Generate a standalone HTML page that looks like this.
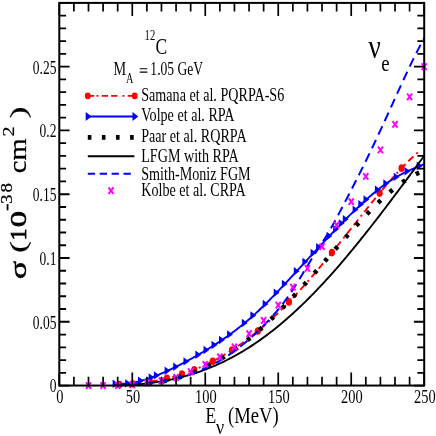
<!DOCTYPE html>
<html><head><meta charset="utf-8"><title>chart</title>
<style>html,body{margin:0;padding:0;background:#fff;width:436px;height:436px;overflow:hidden}</style></head>
<body>
<svg width="436" height="436" viewBox="0 0 436 436" style="position:absolute;left:0;top:0">
<rect width="436" height="436" fill="#fff"/>
<defs><clipPath id="cp"><rect x="59.3" y="2.9" width="364.9" height="382.65"/></clipPath></defs>
<g fill="none" stroke-linejoin="round" clip-path="url(#cp)">
<path d="M117.00,384.70 L117.76,384.67 L118.52,384.64 L119.28,384.62 L120.04,384.58 L120.80,384.55 L121.56,384.52 L122.32,384.48 L123.08,384.44 L123.84,384.40 L124.60,384.36 L125.36,384.32 L126.12,384.27 L126.88,384.22 L127.64,384.18 L128.40,384.12 L129.16,384.07 L129.92,384.01 L130.68,383.96 L131.44,383.90 L132.20,383.84 L132.96,383.77 L133.72,383.71 L134.48,383.64 L135.24,383.57 L136.00,383.49 L136.76,383.42 L137.52,383.34 L138.28,383.26 L139.04,383.18 L139.80,383.10 L140.56,383.01 L141.32,382.92 L142.08,382.83 L142.85,382.73 L143.61,382.64 L144.37,382.54 L145.13,382.44 L145.89,382.33 L146.65,382.23 L147.41,382.12 L148.17,382.01 L148.93,381.89 L149.69,381.78 L150.45,381.66 L151.21,381.54 L151.97,381.41 L152.73,381.28 L153.49,381.15 L154.25,381.02 L155.01,380.88 L155.77,380.75 L156.53,380.60 L157.29,380.46 L158.05,380.31 L158.81,380.16 L159.57,380.01 L160.33,379.86 L161.09,379.70 L161.85,379.54 L162.61,379.37 L163.37,379.20 L164.13,379.03 L164.89,378.86 L165.65,378.68 L166.41,378.50 L167.17,378.32 L167.93,378.14 L168.69,377.95 L169.45,377.76 L170.21,377.56 L170.97,377.36 L171.73,377.16 L172.49,376.96 L173.25,376.75 L174.01,376.54 L174.77,376.33 L175.53,376.11 L176.29,375.89 L177.05,375.66 L177.81,375.44 L178.57,375.21 L179.33,374.97 L180.09,374.74 L180.85,374.50 L181.61,374.25 L182.37,374.01 L183.13,373.76 L183.89,373.50 L184.65,373.24 L185.41,372.98 L186.17,372.72 L186.93,372.45 L187.69,372.18 L188.45,371.91 L189.21,371.63 L189.97,371.35 L190.73,371.06 L191.49,370.77 L192.25,370.48 L193.02,370.19 L193.78,369.89 L194.54,369.59 L195.30,369.28 L196.06,368.97 L196.82,368.66 L197.58,368.34 L198.34,368.02 L199.10,367.69 L199.86,367.37 L200.62,367.03 L201.38,366.70 L202.14,366.36 L202.90,366.02 L203.66,365.67 L204.42,365.32 L205.18,364.97 L205.94,364.61 L206.70,364.25 L207.46,363.88 L208.22,363.51 L208.98,363.14 L209.74,362.76 L210.50,362.38 L211.26,362.00 L212.02,361.61 L212.78,361.22 L213.54,360.83 L214.30,360.43 L215.06,360.02 L215.82,359.62 L216.58,359.21 L217.34,358.79 L218.10,358.37 L218.86,357.95 L219.62,357.52 L220.38,357.09 L221.14,356.66 L221.90,356.22 L222.66,355.78 L223.42,355.33 L224.18,354.88 L224.94,354.43 L225.70,353.97 L226.46,353.51 L227.22,353.05 L227.98,352.58 L228.74,352.10 L229.50,351.63 L230.26,351.15 L231.02,350.66 L231.78,350.17 L232.54,349.68 L233.30,349.18 L234.06,348.68 L234.82,348.18 L235.58,347.67 L236.34,347.15 L237.10,346.64 L237.86,346.12 L238.62,345.59 L239.38,345.06 L240.14,344.53 L240.90,343.99 L241.66,343.45 L242.42,342.90 L243.18,342.36 L243.95,341.80 L244.71,341.25 L245.47,340.68 L246.23,340.12 L246.99,339.55 L247.75,338.98 L248.51,338.40 L249.27,337.82 L250.03,337.23 L250.79,336.64 L251.55,336.05 L252.31,335.45 L253.07,334.85 L253.83,334.24 L254.59,333.63 L255.35,333.02 L256.11,332.40 L256.87,331.78 L257.63,331.16 L258.39,330.53 L259.15,329.89 L259.91,329.25 L260.67,328.61 L261.43,327.97 L262.19,327.32 L262.95,326.66 L263.71,326.00 L264.47,325.34 L265.23,324.68 L265.99,324.01 L266.75,323.33 L267.51,322.65 L268.27,321.97 L269.03,321.29 L269.79,320.60 L270.55,319.90 L271.31,319.20 L272.07,318.50 L272.83,317.80 L273.59,317.09 L274.35,316.37 L275.11,315.66 L275.87,314.94 L276.63,314.21 L277.39,313.48 L278.15,312.75 L278.91,312.01 L279.67,311.27 L280.43,310.53 L281.19,309.78 L281.95,309.03 L282.71,308.27 L283.47,307.51 L284.23,306.75 L284.99,305.98 L285.75,305.21 L286.51,304.44 L287.27,303.66 L288.03,302.88 L288.79,302.09 L289.55,301.30 L290.31,300.51 L291.07,299.72 L291.83,298.92 L292.59,298.11 L293.35,297.31 L294.12,296.50 L294.88,295.69 L295.64,294.87 L296.40,294.05 L297.16,293.23 L297.92,292.40 L298.68,291.57 L299.44,290.74 L300.20,289.90 L300.96,289.06 L301.72,288.22 L302.48,287.37 L303.24,286.53 L304.00,285.67 L304.76,284.82 L305.52,283.96 L306.28,283.10 L307.04,282.24 L307.80,281.37 L308.56,280.50 L309.32,279.63 L310.08,278.75 L310.84,277.87 L311.60,276.99 L312.36,276.11 L313.12,275.22 L313.88,274.34 L314.64,273.44 L315.40,272.55 L316.16,271.65 L316.92,270.76 L317.68,269.85 L318.44,268.95 L319.20,268.04 L319.96,267.14 L320.72,266.23 L321.48,265.31 L322.24,264.40 L323.00,263.48 L323.76,262.56 L324.52,261.64 L325.28,260.72 L326.04,259.79 L326.80,258.87 L327.56,257.94 L328.32,257.01 L329.08,256.07 L329.84,255.14 L330.60,254.21 L331.36,253.27 L332.12,252.33 L332.88,251.39 L333.64,250.45 L334.40,249.50 L335.16,248.56 L335.92,247.61 L336.68,246.67 L337.44,245.72 L338.20,244.77 L338.96,243.82 L339.72,242.87 L340.48,241.91 L341.24,240.96 L342.00,240.01 L342.76,239.05 L343.52,238.09 L344.28,237.14 L345.05,236.18 L345.81,235.22 L346.57,234.26 L347.33,233.31 L348.09,232.35 L348.85,231.39 L349.61,230.43 L350.37,229.47 L351.13,228.51 L351.89,227.55 L352.65,226.59 L353.41,225.63 L354.17,224.67 L354.93,223.71 L355.69,222.75 L356.45,221.79 L357.21,220.83 L357.97,219.87 L358.73,218.91 L359.49,217.96 L360.25,217.00 L361.01,216.05 L361.77,215.09 L362.53,214.14 L363.29,213.18 L364.05,212.23 L364.81,211.28 L365.57,210.33 L366.33,209.38 L367.09,208.43 L367.85,207.49 L368.61,206.54 L369.37,205.60 L370.13,204.66 L370.89,203.72 L371.65,202.78 L372.41,201.84 L373.17,200.91 L373.93,199.98 L374.69,199.05 L375.45,198.12 L376.21,197.19 L376.97,196.27 L377.73,195.35 L378.49,194.43 L379.25,193.51 L380.01,192.60 L380.77,191.69 L381.53,190.78 L382.29,189.88 L383.05,188.98 L383.81,188.08 L384.57,187.18 L385.33,186.29 L386.09,185.40 L386.85,184.51 L387.61,183.63 L388.37,182.75 L389.13,181.88 L389.89,181.00 L390.65,180.14 L391.41,179.27 L392.17,178.41 L392.93,177.56 L393.69,176.71 L394.45,175.86 L395.22,175.02 L395.98,174.18 L396.74,173.35 L397.50,172.52 L398.26,171.69 L399.02,170.87 L399.78,170.06 L400.54,169.25 L401.30,168.45 L402.06,167.65 L402.82,166.85 L403.58,166.07 L404.34,165.28 L405.10,164.51 L405.86,163.74 L406.62,162.97 L407.38,162.21 L408.14,161.46 L408.90,160.71 L409.66,159.97 L410.42,159.24 L411.18,158.51 L411.94,157.79 L412.70,157.07 L413.46,156.36 L414.22,155.66 L414.98,154.97 L415.74,154.28 L416.50,153.60 L417.26,152.93 L418.02,152.26 L418.78,151.61 L419.54,150.96 L420.30,150.32" stroke="#ff0000" stroke-width="1.9" stroke-dasharray="2 4 7 4 7 4"/>
</g>
<ellipse cx="119.50" cy="384.61" rx="3.1" ry="3.8" fill="#ff0000"/>
<ellipse cx="132.70" cy="383.79" rx="3.1" ry="3.8" fill="#ff0000"/>
<ellipse cx="150.00" cy="381.73" rx="3.1" ry="3.8" fill="#ff0000"/>
<ellipse cx="166.90" cy="378.39" rx="3.1" ry="3.8" fill="#ff0000"/>
<ellipse cx="181.90" cy="374.16" rx="3.1" ry="3.8" fill="#ff0000"/>
<ellipse cx="194.30" cy="369.68" rx="3.1" ry="3.8" fill="#ff0000"/>
<ellipse cx="212.70" cy="361.26" rx="3.1" ry="3.8" fill="#ff0000"/>
<ellipse cx="232.00" cy="350.03" rx="3.1" ry="3.8" fill="#ff0000"/>
<ellipse cx="257.80" cy="331.01" rx="3.1" ry="3.8" fill="#ff0000"/>
<ellipse cx="289.00" cy="301.88" rx="3.1" ry="3.8" fill="#ff0000"/>
<ellipse cx="331.90" cy="252.60" rx="3.1" ry="3.8" fill="#ff0000"/>
<ellipse cx="379.60" cy="193.10" rx="3.1" ry="3.8" fill="#ff0000"/>
<ellipse cx="401.60" cy="168.13" rx="3.1" ry="3.8" fill="#ff0000"/>
<g fill="none" stroke-linejoin="round" clip-path="url(#cp)">
<path d="M114.70,383.74 L115.48,383.80 L116.26,383.84 L117.03,383.88 L117.81,383.91 L118.59,383.92 L119.37,383.93 L120.14,383.92 L120.92,383.91 L121.70,383.89 L122.48,383.86 L123.25,383.82 L124.03,383.77 L124.81,383.71 L125.59,383.64 L126.37,383.57 L127.14,383.48 L127.92,383.39 L128.70,383.29 L129.48,383.19 L130.25,383.07 L131.03,382.95 L131.81,382.82 L132.59,382.68 L133.36,382.54 L134.14,382.38 L134.92,382.23 L135.70,382.06 L136.48,381.89 L137.25,381.71 L138.03,381.53 L138.81,381.33 L139.59,381.14 L140.36,380.93 L141.14,380.72 L141.92,380.51 L142.70,380.29 L143.47,380.06 L144.25,379.83 L145.03,379.59 L145.81,379.35 L146.59,379.10 L147.36,378.85 L148.14,378.59 L148.92,378.33 L149.70,378.06 L150.47,377.79 L151.25,377.51 L152.03,377.23 L152.81,376.94 L153.58,376.65 L154.36,376.36 L155.14,376.06 L155.92,375.76 L156.70,375.45 L157.47,375.14 L158.25,374.83 L159.03,374.51 L159.81,374.19 L160.58,373.86 L161.36,373.53 L162.14,373.20 L162.92,372.86 L163.69,372.52 L164.47,372.18 L165.25,371.84 L166.03,371.49 L166.81,371.13 L167.58,370.78 L168.36,370.42 L169.14,370.06 L169.92,369.70 L170.69,369.33 L171.47,368.96 L172.25,368.59 L173.03,368.21 L173.80,367.84 L174.58,367.45 L175.36,367.07 L176.14,366.69 L176.92,366.30 L177.69,365.91 L178.47,365.52 L179.25,365.12 L180.03,364.72 L180.80,364.32 L181.58,363.92 L182.36,363.52 L183.14,363.11 L183.91,362.70 L184.69,362.29 L185.47,361.88 L186.25,361.46 L187.03,361.05 L187.80,360.63 L188.58,360.21 L189.36,359.78 L190.14,359.36 L190.91,358.93 L191.69,358.50 L192.47,358.07 L193.25,357.63 L194.02,357.20 L194.80,356.76 L195.58,356.32 L196.36,355.88 L197.14,355.43 L197.91,354.98 L198.69,354.54 L199.47,354.08 L200.25,353.63 L201.02,353.18 L201.80,352.72 L202.58,352.26 L203.36,351.80 L204.13,351.33 L204.91,350.87 L205.69,350.40 L206.47,349.93 L207.25,349.46 L208.02,348.98 L208.80,348.50 L209.58,348.02 L210.36,347.54 L211.13,347.06 L211.91,346.57 L212.69,346.08 L213.47,345.59 L214.24,345.09 L215.02,344.59 L215.80,344.09 L216.58,343.59 L217.36,343.08 L218.13,342.57 L218.91,342.06 L219.69,341.54 L220.47,341.03 L221.24,340.50 L222.02,339.98 L222.80,339.45 L223.58,338.92 L224.35,338.39 L225.13,337.85 L225.91,337.31 L226.69,336.76 L227.47,336.21 L228.24,335.66 L229.02,335.10 L229.80,334.54 L230.58,333.98 L231.35,333.41 L232.13,332.84 L232.91,332.26 L233.69,331.68 L234.46,331.10 L235.24,330.51 L236.02,329.92 L236.80,329.32 L237.58,328.72 L238.35,328.11 L239.13,327.50 L239.91,326.88 L240.69,326.26 L241.46,325.64 L242.24,325.01 L243.02,324.37 L243.80,323.74 L244.57,323.09 L245.35,322.44 L246.13,321.79 L246.91,321.13 L247.69,320.47 L248.46,319.80 L249.24,319.13 L250.02,318.45 L250.80,317.77 L251.57,317.09 L252.35,316.40 L253.13,315.70 L253.91,315.00 L254.68,314.29 L255.46,313.59 L256.24,312.87 L257.02,312.15 L257.80,311.43 L258.57,310.70 L259.35,309.97 L260.13,309.23 L260.91,308.49 L261.68,307.75 L262.46,307.00 L263.24,306.25 L264.02,305.49 L264.79,304.73 L265.57,303.96 L266.35,303.19 L267.13,302.42 L267.91,301.65 L268.68,300.87 L269.46,300.08 L270.24,299.29 L271.02,298.50 L271.79,297.71 L272.57,296.91 L273.35,296.11 L274.13,295.31 L274.91,294.51 L275.68,293.70 L276.46,292.89 L277.24,292.07 L278.02,291.26 L278.79,290.44 L279.57,289.62 L280.35,288.80 L281.13,287.97 L281.90,287.15 L282.68,286.32 L283.46,285.49 L284.24,284.66 L285.02,283.83 L285.79,282.99 L286.57,282.16 L287.35,281.32 L288.13,280.48 L288.90,279.65 L289.68,278.81 L290.46,277.97 L291.24,277.13 L292.01,276.28 L292.79,275.44 L293.57,274.60 L294.35,273.76 L295.13,272.91 L295.90,272.07 L296.68,271.22 L297.46,270.38 L298.24,269.53 L299.01,268.69 L299.79,267.84 L300.57,267.00 L301.35,266.15 L302.12,265.31 L302.90,264.47 L303.68,263.62 L304.46,262.78 L305.24,261.93 L306.01,261.09 L306.79,260.25 L307.57,259.41 L308.35,258.56 L309.12,257.72 L309.90,256.88 L310.68,256.04 L311.46,255.20 L312.23,254.37 L313.01,253.53 L313.79,252.69 L314.57,251.86 L315.35,251.02 L316.12,250.19 L316.90,249.35 L317.68,248.52 L318.46,247.69 L319.23,246.86 L320.01,246.03 L320.79,245.20 L321.57,244.37 L322.34,243.54 L323.12,242.72 L323.90,241.89 L324.68,241.07 L325.46,240.24 L326.23,239.42 L327.01,238.60 L327.79,237.78 L328.57,236.96 L329.34,236.14 L330.12,235.33 L330.90,234.51 L331.68,233.70 L332.45,232.89 L333.23,232.08 L334.01,231.27 L334.79,230.46 L335.57,229.65 L336.34,228.84 L337.12,228.04 L337.90,227.24 L338.68,226.44 L339.45,225.64 L340.23,224.84 L341.01,224.05 L341.79,223.25 L342.56,222.46 L343.34,221.67 L344.12,220.88 L344.90,220.10 L345.68,219.31 L346.45,218.53 L347.23,217.75 L348.01,216.98 L348.79,216.20 L349.56,215.43 L350.34,214.66 L351.12,213.89 L351.90,213.13 L352.67,212.37 L353.45,211.61 L354.23,210.85 L355.01,210.10 L355.79,209.35 L356.56,208.60 L357.34,207.86 L358.12,207.12 L358.90,206.38 L359.67,205.65 L360.45,204.92 L361.23,204.20 L362.01,203.48 L362.78,202.76 L363.56,202.04 L364.34,201.33 L365.12,200.63 L365.90,199.93 L366.67,199.23 L367.45,198.54 L368.23,197.85 L369.01,197.17 L369.78,196.49 L370.56,195.81 L371.34,195.15 L372.12,194.48 L372.89,193.82 L373.67,193.17 L374.45,192.53 L375.23,191.88 L376.01,191.25 L376.78,190.62 L377.56,190.00 L378.34,189.38 L379.12,188.77 L379.89,188.16 L380.67,187.56 L381.45,186.97 L382.23,186.39 L383.00,185.81 L383.78,185.24 L384.56,184.67 L385.34,184.12 L386.12,183.57 L386.89,183.03 L387.67,182.49 L388.45,181.96 L389.23,181.44 L390.00,180.93 L390.78,180.43 L391.56,179.93 L392.34,179.44 L393.11,178.96 L393.89,178.48 L394.67,178.01 L395.45,177.55 L396.23,177.10 L397.00,176.65 L397.78,176.21 L398.56,175.78 L399.34,175.35 L400.11,174.93 L400.89,174.52 L401.67,174.11 L402.45,173.71 L403.22,173.31 L404.00,172.92 L404.78,172.54 L405.56,172.16 L406.34,171.79 L407.11,171.42 L407.89,171.06 L408.67,170.70 L409.45,170.35 L410.22,170.00 L411.00,169.65 L411.78,169.31 L412.56,168.97 L413.33,168.63 L414.11,168.30 L414.89,167.97 L415.67,167.64 L416.45,167.31 L417.22,166.98 L418.00,166.66 L418.78,166.33 L419.56,166.01 L420.33,165.68 L421.11,165.36 L421.89,165.03 L422.67,164.70 L423.44,164.37 L424.22,164.04 L425.00,163.70" stroke="#0000ff" stroke-width="1.9"/>
</g>
<path d="M112.60,379.60 L118.40,383.80 L112.60,388.00 Z" fill="#0000ff"/>
<path d="M125.20,379.17 L131.00,383.37 L125.20,387.57 Z" fill="#0000ff"/>
<path d="M138.00,376.59 L143.80,380.79 L138.00,384.99 Z" fill="#0000ff"/>
<path d="M148.60,373.22 L154.40,377.42 L148.60,381.62 Z" fill="#0000ff"/>
<path d="M153.90,371.21 L159.70,375.41 L153.90,379.61 Z" fill="#0000ff"/>
<path d="M164.60,366.62 L170.40,370.82 L164.60,375.02 Z" fill="#0000ff"/>
<path d="M173.20,362.51 L179.00,366.71 L173.20,370.91 Z" fill="#0000ff"/>
<path d="M183.50,357.18 L189.30,361.38 L183.50,365.58 Z" fill="#0000ff"/>
<path d="M195.40,350.56 L201.20,354.76 L195.40,358.96 Z" fill="#0000ff"/>
<path d="M203.50,345.77 L209.30,349.97 L203.50,354.17 Z" fill="#0000ff"/>
<path d="M211.50,340.79 L217.30,344.99 L211.50,349.19 Z" fill="#0000ff"/>
<path d="M219.00,335.86 L224.80,340.06 L219.00,344.26 Z" fill="#0000ff"/>
<path d="M227.10,330.20 L232.90,334.40 L227.10,338.60 Z" fill="#0000ff"/>
<path d="M241.80,318.79 L247.60,322.99 L241.80,327.19 Z" fill="#0000ff"/>
<path d="M250.40,311.35 L256.20,315.55 L250.40,319.75 Z" fill="#0000ff"/>
<path d="M262.70,299.74 L268.50,303.94 L262.70,308.14 Z" fill="#0000ff"/>
<path d="M273.70,288.54 L279.50,292.74 L273.70,296.94 Z" fill="#0000ff"/>
<path d="M281.90,279.86 L287.70,284.06 L281.90,288.26 Z" fill="#0000ff"/>
<path d="M293.80,267.00 L299.60,271.20 L293.80,275.40 Z" fill="#0000ff"/>
<path d="M302.40,257.66 L308.20,261.86 L302.40,266.06 Z" fill="#0000ff"/>
<path d="M310.60,248.80 L316.40,253.00 L310.60,257.20 Z" fill="#0000ff"/>
<path d="M316.10,242.91 L321.90,247.11 L316.10,251.31 Z" fill="#0000ff"/>
<path d="M326.60,231.78 L332.40,235.98 L326.60,240.18 Z" fill="#0000ff"/>
<path d="M333.10,225.00 L338.90,229.20 L333.10,233.40 Z" fill="#0000ff"/>
<path d="M338.80,219.14 L344.60,223.34 L338.80,227.54 Z" fill="#0000ff"/>
<path d="M342.80,215.09 L348.60,219.29 L342.80,223.49 Z" fill="#0000ff"/>
<path d="M352.60,205.43 L358.40,209.63 L352.60,213.83 Z" fill="#0000ff"/>
<path d="M358.30,200.02 L364.10,204.22 L358.30,208.42 Z" fill="#0000ff"/>
<path d="M363.50,195.27 L369.30,199.47 L363.50,203.67 Z" fill="#0000ff"/>
<path d="M374.90,185.60 L380.70,189.80 L374.90,194.00 Z" fill="#0000ff"/>
<path d="M383.30,179.31 L389.10,183.51 L383.30,187.71 Z" fill="#0000ff"/>
<path d="M393.70,172.68 L399.50,176.88 L393.70,181.08 Z" fill="#0000ff"/>
<path d="M404.60,167.04 L410.40,171.24 L404.60,175.44 Z" fill="#0000ff"/>
<path d="M416.70,161.79 L422.50,165.99 L416.70,170.19 Z" fill="#0000ff"/>
<g fill="none" stroke-linejoin="round" clip-path="url(#cp)">
<path d="M118.00,385.40 L118.77,385.40 L119.54,385.40 L120.31,385.40 L121.08,385.40 L121.85,385.40 L122.62,385.40 L123.39,385.40 L124.16,385.37 L124.92,385.34 L125.69,385.31 L126.46,385.28 L127.23,385.25 L128.00,385.21 L128.77,385.18 L129.54,385.14 L130.31,385.10 L131.08,385.06 L131.85,385.02 L132.62,384.98 L133.39,384.93 L134.16,384.88 L134.93,384.83 L135.70,384.78 L136.47,384.73 L137.24,384.67 L138.01,384.61 L138.77,384.55 L139.54,384.49 L140.31,384.43 L141.08,384.36 L141.85,384.29 L142.62,384.22 L143.39,384.15 L144.16,384.07 L144.93,383.99 L145.70,383.91 L146.47,383.83 L147.24,383.74 L148.01,383.65 L148.78,383.56 L149.55,383.47 L150.32,383.37 L151.09,383.27 L151.85,383.17 L152.62,383.06 L153.39,382.95 L154.16,382.84 L154.93,382.73 L155.70,382.61 L156.47,382.49 L157.24,382.37 L158.01,382.24 L158.78,382.11 L159.55,381.97 L160.32,381.84 L161.09,381.70 L161.86,381.55 L162.63,381.41 L163.40,381.26 L164.17,381.10 L164.93,380.95 L165.70,380.79 L166.47,380.62 L167.24,380.46 L168.01,380.28 L168.78,380.11 L169.55,379.93 L170.32,379.75 L171.09,379.56 L171.86,379.37 L172.63,379.18 L173.40,378.98 L174.17,378.78 L174.94,378.58 L175.71,378.37 L176.48,378.16 L177.25,377.94 L178.02,377.72 L178.78,377.50 L179.55,377.27 L180.32,377.04 L181.09,376.80 L181.86,376.56 L182.63,376.32 L183.40,376.07 L184.17,375.82 L184.94,375.56 L185.71,375.30 L186.48,375.04 L187.25,374.77 L188.02,374.50 L188.79,374.22 L189.56,373.94 L190.33,373.66 L191.10,373.37 L191.86,373.07 L192.63,372.77 L193.40,372.47 L194.17,372.17 L194.94,371.85 L195.71,371.54 L196.48,371.22 L197.25,370.89 L198.02,370.57 L198.79,370.23 L199.56,369.90 L200.33,369.55 L201.10,369.21 L201.87,368.86 L202.64,368.50 L203.41,368.14 L204.18,367.78 L204.94,367.41 L205.71,367.04 L206.48,366.66 L207.25,366.28 L208.02,365.89 L208.79,365.50 L209.56,365.11 L210.33,364.71 L211.10,364.30 L211.87,363.90 L212.64,363.48 L213.41,363.06 L214.18,362.64 L214.95,362.22 L215.72,361.78 L216.49,361.35 L217.26,360.91 L218.03,360.46 L218.79,360.01 L219.56,359.56 L220.33,359.10 L221.10,358.64 L221.87,358.17 L222.64,357.70 L223.41,357.22 L224.18,356.74 L224.95,356.25 L225.72,355.76 L226.49,355.27 L227.26,354.77 L228.03,354.27 L228.80,353.76 L229.57,353.24 L230.34,352.73 L231.11,352.21 L231.87,351.68 L232.64,351.15 L233.41,350.61 L234.18,350.07 L234.95,349.53 L235.72,348.98 L236.49,348.43 L237.26,347.87 L238.03,347.31 L238.80,346.74 L239.57,346.17 L240.34,345.60 L241.11,345.02 L241.88,344.43 L242.65,343.85 L243.42,343.25 L244.19,342.66 L244.95,342.06 L245.72,341.45 L246.49,340.84 L247.26,340.23 L248.03,339.61 L248.80,338.99 L249.57,338.36 L250.34,337.73 L251.11,337.09 L251.88,336.46 L252.65,335.81 L253.42,335.17 L254.19,334.51 L254.96,333.86 L255.73,333.20 L256.50,332.54 L257.27,331.87 L258.04,331.20 L258.80,330.52 L259.57,329.84 L260.34,329.16 L261.11,328.47 L261.88,327.78 L262.65,327.09 L263.42,326.39 L264.19,325.69 L264.96,324.98 L265.73,324.27 L266.50,323.56 L267.27,322.84 L268.04,322.12 L268.81,321.39 L269.58,320.66 L270.35,319.93 L271.12,319.20 L271.88,318.46 L272.65,317.72 L273.42,316.97 L274.19,316.22 L274.96,315.47 L275.73,314.71 L276.50,313.95 L277.27,313.19 L278.04,312.42 L278.81,311.65 L279.58,310.88 L280.35,310.11 L281.12,309.33 L281.89,308.55 L282.66,307.76 L283.43,306.97 L284.20,306.18 L284.96,305.39 L285.73,304.59 L286.50,303.79 L287.27,302.99 L288.04,302.19 L288.81,301.38 L289.58,300.57 L290.35,299.75 L291.12,298.94 L291.89,298.12 L292.66,297.30 L293.43,296.47 L294.20,295.65 L294.97,294.82 L295.74,293.99 L296.51,293.16 L297.28,292.32 L298.05,291.48 L298.81,290.64 L299.58,289.80 L300.35,288.96 L301.12,288.11 L301.89,287.26 L302.66,286.41 L303.43,285.56 L304.20,284.70 L304.97,283.85 L305.74,282.99 L306.51,282.13 L307.28,281.27 L308.05,280.41 L308.82,279.54 L309.59,278.68 L310.36,277.81 L311.13,276.94 L311.89,276.07 L312.66,275.20 L313.43,274.33 L314.20,273.45 L314.97,272.58 L315.74,271.70 L316.51,270.82 L317.28,269.95 L318.05,269.07 L318.82,268.19 L319.59,267.30 L320.36,266.42 L321.13,265.54 L321.90,264.66 L322.67,263.77 L323.44,262.89 L324.21,262.01 L324.97,261.12 L325.74,260.23 L326.51,259.35 L327.28,258.46 L328.05,257.58 L328.82,256.69 L329.59,255.80 L330.36,254.92 L331.13,254.03 L331.90,253.15 L332.67,252.26 L333.44,251.37 L334.21,250.49 L334.98,249.60 L335.75,248.72 L336.52,247.83 L337.29,246.95 L338.06,246.07 L338.82,245.19 L339.59,244.31 L340.36,243.43 L341.13,242.55 L341.90,241.67 L342.67,240.79 L343.44,239.91 L344.21,239.04 L344.98,238.17 L345.75,237.29 L346.52,236.42 L347.29,235.55 L348.06,234.69 L348.83,233.82 L349.60,232.96 L350.37,232.09 L351.14,231.23 L351.90,230.37 L352.67,229.52 L353.44,228.66 L354.21,227.81 L354.98,226.96 L355.75,226.11 L356.52,225.27 L357.29,224.42 L358.06,223.58 L358.83,222.75 L359.60,221.91 L360.37,221.08 L361.14,220.25 L361.91,219.42 L362.68,218.60 L363.45,217.78 L364.22,216.96 L364.98,216.15 L365.75,215.34 L366.52,214.53 L367.29,213.73 L368.06,212.93 L368.83,212.13 L369.60,211.34 L370.37,210.55 L371.14,209.77 L371.91,208.99 L372.68,208.21 L373.45,207.44 L374.22,206.67 L374.99,205.91 L375.76,205.15 L376.53,204.40 L377.30,203.65 L378.07,202.90 L378.83,202.16 L379.60,201.43 L380.37,200.70 L381.14,199.97 L381.91,199.25 L382.68,198.54 L383.45,197.83 L384.22,197.13 L384.99,196.43 L385.76,195.74 L386.53,195.05 L387.30,194.37 L388.07,193.70 L388.84,193.03 L389.61,192.37 L390.38,191.71 L391.15,191.06 L391.91,190.42 L392.68,189.78 L393.45,189.15 L394.22,188.53 L394.99,187.91 L395.76,187.30 L396.53,186.70 L397.30,186.11 L398.07,185.52 L398.84,184.94 L399.61,184.36 L400.38,183.80 L401.15,183.24 L401.92,182.69 L402.69,182.15 L403.46,181.61 L404.23,181.09 L404.99,180.57 L405.76,180.06 L406.53,179.56 L407.30,179.07 L408.07,178.58 L408.84,178.11 L409.61,177.64 L410.38,177.18 L411.15,176.73 L411.92,176.29 L412.69,175.86 L413.46,175.44 L414.23,175.03 L415.00,174.63 L415.77,174.24 L416.54,173.86 L417.31,173.48 L418.08,173.12 L418.84,172.77 L419.61,172.43 L420.38,172.10 L421.15,171.77 L421.92,171.46 L422.69,171.16 L423.46,170.88 L424.23,170.60 L425.00,170.33" stroke="#000" stroke-width="4.6" stroke-dasharray="3.7 12.13" stroke-dashoffset="2.5"/>
<path d="M118.00,385.40 L119.54,385.40 L121.09,385.40 L122.63,385.40 L124.17,385.40 L125.71,385.40 L127.26,385.32 L128.80,385.21 L130.34,385.09 L131.88,384.96 L133.43,384.83 L134.97,384.69 L136.51,384.55 L138.06,384.41 L139.60,384.25 L141.14,384.10 L142.68,383.93 L144.23,383.76 L145.77,383.58 L147.31,383.40 L148.85,383.20 L150.40,383.00 L151.94,382.80 L153.48,382.58 L155.03,382.36 L156.57,382.12 L158.11,381.88 L159.65,381.64 L161.20,381.38 L162.74,381.11 L164.28,380.84 L165.82,380.55 L167.37,380.26 L168.91,379.95 L170.45,379.64 L171.99,379.31 L173.54,378.98 L175.08,378.63 L176.62,378.28 L178.17,377.91 L179.71,377.53 L181.25,377.14 L182.79,376.75 L184.34,376.33 L185.88,375.91 L187.42,375.48 L188.96,375.03 L190.51,374.58 L192.05,374.11 L193.59,373.62 L195.14,373.13 L196.68,372.62 L198.22,372.11 L199.76,371.57 L201.31,371.03 L202.85,370.47 L204.39,369.90 L205.93,369.32 L207.48,368.73 L209.02,368.12 L210.56,367.49 L212.11,366.86 L213.65,366.21 L215.19,365.54 L216.73,364.87 L218.28,364.18 L219.82,363.47 L221.36,362.75 L222.90,362.02 L224.45,361.28 L225.99,360.51 L227.53,359.74 L229.08,358.95 L230.62,358.15 L232.16,357.33 L233.70,356.50 L235.25,355.65 L236.79,354.79 L238.33,353.91 L239.87,353.02 L241.42,352.12 L242.96,351.20 L244.50,350.26 L246.05,349.31 L247.59,348.35 L249.13,347.37 L250.67,346.38 L252.22,345.37 L253.76,344.35 L255.30,343.31 L256.84,342.25 L258.39,341.19 L259.93,340.10 L261.47,339.01 L263.02,337.89 L264.56,336.77 L266.10,335.62 L267.64,334.47 L269.19,333.30 L270.73,332.11 L272.27,330.91 L273.81,329.69 L275.36,328.46 L276.90,327.21 L278.44,325.95 L279.98,324.68 L281.53,323.39 L283.07,322.09 L284.61,320.77 L286.16,319.43 L287.70,318.09 L289.24,316.73 L290.78,315.35 L292.33,313.96 L293.87,312.56 L295.41,311.14 L296.95,309.70 L298.50,308.26 L300.04,306.80 L301.58,305.32 L303.13,303.83 L304.67,302.33 L306.21,300.82 L307.75,299.29 L309.30,297.75 L310.84,296.19 L312.38,294.62 L313.92,293.04 L315.47,291.45 L317.01,289.84 L318.55,288.22 L320.10,286.59 L321.64,284.94 L323.18,283.28 L324.72,281.61 L326.27,279.93 L327.81,278.24 L329.35,276.53 L330.89,274.81 L332.44,273.08 L333.98,271.34 L335.52,269.59 L337.07,267.82 L338.61,266.05 L340.15,264.26 L341.69,262.47 L343.24,260.66 L344.78,258.84 L346.32,257.01 L347.86,255.17 L349.41,253.32 L350.95,251.47 L352.49,249.60 L354.04,247.72 L355.58,245.83 L357.12,243.94 L358.66,242.03 L360.21,240.12 L361.75,238.20 L363.29,236.27 L364.83,234.33 L366.38,232.39 L367.92,230.43 L369.46,228.47 L371.01,226.50 L372.55,224.53 L374.09,222.54 L375.63,220.55 L377.18,218.56 L378.72,216.56 L380.26,214.55 L381.80,212.53 L383.35,210.51 L384.89,208.49 L386.43,206.46 L387.97,204.42 L389.52,202.39 L391.06,200.34 L392.60,198.29 L394.15,196.24 L395.69,194.19 L397.23,192.13 L398.77,190.07 L400.32,188.00 L401.86,185.94 L403.40,183.87 L404.94,181.80 L406.49,179.73 L408.03,177.65 L409.57,175.58 L411.12,173.50 L412.66,171.42 L414.20,169.35 L415.74,167.27 L417.29,165.19 L418.83,163.12 L420.37,161.04 L421.91,158.97 L423.46,156.90 L425.00,154.83" stroke="#000" stroke-width="1.9"/>
<path d="M118.00,385.40 L118.77,385.40 L119.54,385.40 L120.31,385.40 L121.07,385.40 L121.84,385.40 L122.61,385.40 L123.38,385.40 L124.15,385.40 L124.92,385.40 L125.68,385.40 L126.45,385.40 L127.22,385.40 L127.99,385.40 L128.76,385.40 L129.53,385.40 L130.29,385.40 L131.06,385.40 L131.83,385.40 L132.60,385.40 L133.37,385.40 L134.14,385.37 L134.91,385.32 L135.67,385.27 L136.44,385.21 L137.21,385.15 L137.98,385.08 L138.75,385.02 L139.52,384.94 L140.28,384.87 L141.05,384.79 L141.82,384.71 L142.59,384.63 L143.36,384.54 L144.13,384.45 L144.89,384.35 L145.66,384.26 L146.43,384.16 L147.20,384.05 L147.97,383.95 L148.74,383.84 L149.51,383.73 L150.27,383.61 L151.04,383.50 L151.81,383.38 L152.58,383.25 L153.35,383.13 L154.12,383.00 L154.88,382.87 L155.65,382.74 L156.42,382.60 L157.19,382.46 L157.96,382.32 L158.73,382.18 L159.49,382.03 L160.26,381.89 L161.03,381.74 L161.80,381.58 L162.57,381.43 L163.34,381.27 L164.11,381.11 L164.87,380.94 L165.64,380.78 L166.41,380.61 L167.18,380.44 L167.95,380.26 L168.72,380.09 L169.48,379.91 L170.25,379.73 L171.02,379.54 L171.79,379.36 L172.56,379.17 L173.33,378.98 L174.09,378.78 L174.86,378.59 L175.63,378.39 L176.40,378.19 L177.17,377.98 L177.94,377.77 L178.71,377.56 L179.47,377.35 L180.24,377.13 L181.01,376.91 L181.78,376.69 L182.55,376.47 L183.32,376.24 L184.08,376.01 L184.85,375.77 L185.62,375.53 L186.39,375.29 L187.16,375.05 L187.93,374.80 L188.69,374.55 L189.46,374.29 L190.23,374.04 L191.00,373.77 L191.77,373.51 L192.54,373.24 L193.31,372.97 L194.07,372.69 L194.84,372.41 L195.61,372.12 L196.38,371.83 L197.15,371.54 L197.92,371.24 L198.68,370.94 L199.45,370.64 L200.22,370.32 L200.99,370.01 L201.76,369.69 L202.53,369.36 L203.29,369.04 L204.06,368.70 L204.83,368.36 L205.60,368.02 L206.37,367.67 L207.14,367.31 L207.91,366.95 L208.67,366.59 L209.44,366.22 L210.21,365.84 L210.98,365.46 L211.75,365.07 L212.52,364.68 L213.28,364.28 L214.05,363.88 L214.82,363.47 L215.59,363.05 L216.36,362.63 L217.13,362.20 L217.89,361.77 L218.66,361.33 L219.43,360.89 L220.20,360.44 L220.97,359.98 L221.74,359.52 L222.51,359.05 L223.27,358.58 L224.04,358.10 L224.81,357.61 L225.58,357.12 L226.35,356.62 L227.12,356.12 L227.88,355.61 L228.65,355.09 L229.42,354.57 L230.19,354.05 L230.96,353.51 L231.73,352.97 L232.49,352.43 L233.26,351.88 L234.03,351.33 L234.80,350.76 L235.57,350.20 L236.34,349.62 L237.11,349.05 L237.87,348.46 L238.64,347.87 L239.41,347.28 L240.18,346.68 L240.95,346.07 L241.72,345.46 L242.48,344.84 L243.25,344.22 L244.02,343.59 L244.79,342.96 L245.56,342.32 L246.33,341.67 L247.09,341.02 L247.86,340.37 L248.63,339.70 L249.40,339.04 L250.17,338.36 L250.94,337.69 L251.71,337.00 L252.47,336.31 L253.24,335.62 L254.01,334.92 L254.78,334.21 L255.55,333.50 L256.32,332.78 L257.08,332.05 L257.85,331.32 L258.62,330.58 L259.39,329.84 L260.16,329.09 L260.93,328.34 L261.69,327.58 L262.46,326.81 L263.23,326.04 L264.00,325.26 L264.77,324.47 L265.54,323.68 L266.31,322.88 L267.07,322.07 L267.84,321.26 L268.61,320.44 L269.38,319.61 L270.15,318.78 L270.92,317.94 L271.68,317.09 L272.45,316.23 L273.22,315.37 L273.99,314.49 L274.76,313.61 L275.53,312.72 L276.29,311.82 L277.06,310.91 L277.83,309.99 L278.60,309.06 L279.37,308.13 L280.14,307.18 L280.91,306.22 L281.67,305.25 L282.44,304.26 L283.21,303.27 L283.98,302.26 L284.75,301.24 L285.52,300.21 L286.28,299.16 L287.05,298.11 L287.82,297.03 L288.59,295.94 L289.36,294.84 L290.13,293.72 L290.89,292.59 L291.66,291.44 L292.43,290.28 L293.20,289.10 L293.97,287.91 L294.74,286.71 L295.51,285.49 L296.27,284.27 L297.04,283.03 L297.81,281.78 L298.58,280.53 L299.35,279.26 L300.12,277.99 L300.88,276.72 L301.65,275.44 L302.42,274.16 L303.19,272.87 L303.96,271.59 L304.73,270.31 L305.49,269.03 L306.26,267.75 L307.03,266.48 L307.80,265.21 L308.57,263.95 L309.34,262.69 L310.11,261.45 L310.87,260.21 L311.64,258.98 L312.41,257.76 L313.18,256.55 L313.95,255.34 L314.72,254.15 L315.48,252.95 L316.25,251.77 L317.02,250.59 L317.79,249.41 L318.56,248.24 L319.33,247.06 L320.09,245.88 L320.86,244.70 L321.63,243.52 L322.40,242.33 L323.17,241.12 L323.94,239.91 L324.71,238.69 L325.47,237.45 L326.24,236.20 L327.01,234.93 L327.78,233.65 L328.55,232.36 L329.32,231.05 L330.08,229.72 L330.85,228.38 L331.62,227.03 L332.39,225.66 L333.16,224.28 L333.93,222.88 L334.69,221.48 L335.46,220.06 L336.23,218.64 L337.00,217.20 L337.77,215.76 L338.54,214.32 L339.31,212.87 L340.07,211.41 L340.84,209.95 L341.61,208.49 L342.38,207.02 L343.15,205.55 L343.92,204.08 L344.68,202.61 L345.45,201.14 L346.22,199.66 L346.99,198.18 L347.76,196.70 L348.53,195.22 L349.29,193.74 L350.06,192.25 L350.83,190.76 L351.60,189.27 L352.37,187.78 L353.14,186.28 L353.91,184.78 L354.67,183.28 L355.44,181.77 L356.21,180.26 L356.98,178.74 L357.75,177.22 L358.52,175.70 L359.28,174.17 L360.05,172.64 L360.82,171.10 L361.59,169.56 L362.36,168.01 L363.13,166.46 L363.89,164.91 L364.66,163.35 L365.43,161.78 L366.20,160.21 L366.97,158.63 L367.74,157.06 L368.51,155.47 L369.27,153.88 L370.04,152.29 L370.81,150.69 L371.58,149.08 L372.35,147.47 L373.12,145.86 L373.88,144.24 L374.65,142.62 L375.42,140.99 L376.19,139.36 L376.96,137.72 L377.73,136.08 L378.49,134.43 L379.26,132.79 L380.03,131.13 L380.80,129.48 L381.57,127.82 L382.34,126.15 L383.11,124.48 L383.87,122.81 L384.64,121.14 L385.41,119.46 L386.18,117.79 L386.95,116.10 L387.72,114.42 L388.48,112.74 L389.25,111.05 L390.02,109.36 L390.79,107.67 L391.56,105.98 L392.33,104.29 L393.09,102.60 L393.86,100.90 L394.63,99.21 L395.40,97.52 L396.17,95.83 L396.94,94.14 L397.71,92.45 L398.47,90.77 L399.24,89.08 L400.01,87.40 L400.78,85.72 L401.55,84.05 L402.32,82.38 L403.08,80.71 L403.85,79.04 L404.62,77.39 L405.39,75.73 L406.16,74.08 L406.93,72.44 L407.69,70.81 L408.46,69.18 L409.23,67.56 L410.00,65.95 L410.77,64.34 L411.54,62.75 L412.31,61.16 L413.07,59.58 L413.84,58.02 L414.61,56.46 L415.38,54.92 L416.15,53.39 L416.92,51.87 L417.68,50.36 L418.45,48.87 L419.22,47.39 L419.99,45.93 L420.76,44.48 L421.53,43.05 L422.29,41.64 L423.06,40.24 L423.83,38.86 L424.60,37.50" stroke="#0000ff" stroke-width="2" stroke-dasharray="9.3 5.7" stroke-dashoffset="4.1"/>
</g>
<path d="M85.99,382.25 L90.99,388.85 M85.99,388.85 L90.99,382.25" stroke="#ff00ff" stroke-width="2" fill="none"/>
<path d="M100.59,382.25 L105.59,388.85 M100.59,388.85 L105.59,382.25" stroke="#ff00ff" stroke-width="2" fill="none"/>
<path d="M115.18,382.25 L120.18,388.85 M115.18,388.85 L120.18,382.25" stroke="#ff00ff" stroke-width="2" fill="none"/>
<path d="M129.78,381.48 L134.78,388.08 M129.78,388.08 L134.78,381.48" stroke="#ff00ff" stroke-width="2" fill="none"/>
<path d="M144.38,379.44 L149.38,386.04 M144.38,386.04 L149.38,379.44" stroke="#ff00ff" stroke-width="2" fill="none"/>
<path d="M158.97,377.53 L163.97,384.13 M158.97,384.13 L163.97,377.53" stroke="#ff00ff" stroke-width="2" fill="none"/>
<path d="M173.57,374.21 L178.57,380.81 M173.57,380.81 L178.57,374.21" stroke="#ff00ff" stroke-width="2" fill="none"/>
<path d="M188.16,368.47 L193.16,375.07 M188.16,375.07 L193.16,368.47" stroke="#ff00ff" stroke-width="2" fill="none"/>
<path d="M202.76,361.08 L207.76,367.68 M202.76,367.68 L207.76,361.08" stroke="#ff00ff" stroke-width="2" fill="none"/>
<path d="M217.36,353.68 L222.36,360.28 M217.36,360.28 L222.36,353.68" stroke="#ff00ff" stroke-width="2" fill="none"/>
<path d="M231.95,343.60 L236.95,350.20 M231.95,350.20 L236.95,343.60" stroke="#ff00ff" stroke-width="2" fill="none"/>
<path d="M246.55,330.46 L251.55,337.06 M246.55,337.06 L251.55,330.46" stroke="#ff00ff" stroke-width="2" fill="none"/>
<path d="M261.14,317.20 L266.14,323.80 M261.14,323.80 L266.14,317.20" stroke="#ff00ff" stroke-width="2" fill="none"/>
<path d="M275.74,301.89 L280.74,308.49 M275.74,308.49 L280.74,301.89" stroke="#ff00ff" stroke-width="2" fill="none"/>
<path d="M290.34,283.91 L295.34,290.51 M290.34,290.51 L295.34,283.91" stroke="#ff00ff" stroke-width="2" fill="none"/>
<path d="M304.93,265.16 L309.93,271.76 M304.93,271.76 L309.93,265.16" stroke="#ff00ff" stroke-width="2" fill="none"/>
<path d="M319.53,243.35 L324.53,249.95 M319.53,249.95 L324.53,243.35" stroke="#ff00ff" stroke-width="2" fill="none"/>
<path d="M334.12,221.66 L339.12,228.26 M334.12,228.26 L339.12,221.66" stroke="#ff00ff" stroke-width="2" fill="none"/>
<path d="M348.72,198.32 L353.72,204.92 M348.72,204.92 L353.72,198.32" stroke="#ff00ff" stroke-width="2" fill="none"/>
<path d="M363.32,173.07 L368.32,179.67 M363.32,179.67 L368.32,173.07" stroke="#ff00ff" stroke-width="2" fill="none"/>
<path d="M377.91,146.67 L382.91,153.27 M377.91,153.27 L382.91,146.67" stroke="#ff00ff" stroke-width="2" fill="none"/>
<path d="M392.51,121.03 L397.51,127.63 M392.51,127.63 L397.51,121.03" stroke="#ff00ff" stroke-width="2" fill="none"/>
<path d="M407.10,93.48 L412.10,100.08 M407.10,100.08 L412.10,93.48" stroke="#ff00ff" stroke-width="2" fill="none"/>
<path d="M421.70,63.38 L426.70,69.98 M421.70,69.98 L426.70,63.38" stroke="#ff00ff" stroke-width="2" fill="none"/>
<rect x="59.3" y="2.9" width="364.9" height="382.65000000000003" fill="none" stroke="#000" stroke-width="2"/>
<path d="M59.30,385.55 v-13 M59.30,2.9 v13 M73.90,385.55 v-8.7 M73.90,2.9 v8.7 M88.49,385.55 v-8.7 M88.49,2.9 v8.7 M103.09,385.55 v-8.7 M103.09,2.9 v8.7 M117.68,385.55 v-8.7 M117.68,2.9 v8.7 M132.28,385.55 v-13 M132.28,2.9 v13 M146.88,385.55 v-8.7 M146.88,2.9 v8.7 M161.47,385.55 v-8.7 M161.47,2.9 v8.7 M176.07,385.55 v-8.7 M176.07,2.9 v8.7 M190.66,385.55 v-8.7 M190.66,2.9 v8.7 M205.26,385.55 v-13 M205.26,2.9 v13 M219.86,385.55 v-8.7 M219.86,2.9 v8.7 M234.45,385.55 v-8.7 M234.45,2.9 v8.7 M249.05,385.55 v-8.7 M249.05,2.9 v8.7 M263.64,385.55 v-8.7 M263.64,2.9 v8.7 M278.24,385.55 v-13 M278.24,2.9 v13 M292.84,385.55 v-8.7 M292.84,2.9 v8.7 M307.43,385.55 v-8.7 M307.43,2.9 v8.7 M322.03,385.55 v-8.7 M322.03,2.9 v8.7 M336.62,385.55 v-8.7 M336.62,2.9 v8.7 M351.22,385.55 v-13 M351.22,2.9 v13 M365.82,385.55 v-8.7 M365.82,2.9 v8.7 M380.41,385.55 v-8.7 M380.41,2.9 v8.7 M395.01,385.55 v-8.7 M395.01,2.9 v8.7 M409.60,385.55 v-8.7 M409.60,2.9 v8.7 M424.20,385.55 v-13 M424.20,2.9 v13" stroke="#000" stroke-width="1.7" fill="none"/>
<path d="M59.3,385.55 h10.3 M424.2,385.55 h-10.3 M59.3,372.80 h6.8 M424.2,372.80 h-6.8 M59.3,360.04 h6.8 M424.2,360.04 h-6.8 M59.3,347.29 h6.8 M424.2,347.29 h-6.8 M59.3,334.53 h6.8 M424.2,334.53 h-6.8 M59.3,321.77 h10.3 M424.2,321.77 h-10.3 M59.3,309.02 h6.8 M424.2,309.02 h-6.8 M59.3,296.26 h6.8 M424.2,296.26 h-6.8 M59.3,283.51 h6.8 M424.2,283.51 h-6.8 M59.3,270.75 h6.8 M424.2,270.75 h-6.8 M59.3,258.00 h10.3 M424.2,258.00 h-10.3 M59.3,245.25 h6.8 M424.2,245.25 h-6.8 M59.3,232.49 h6.8 M424.2,232.49 h-6.8 M59.3,219.74 h6.8 M424.2,219.74 h-6.8 M59.3,206.98 h6.8 M424.2,206.98 h-6.8 M59.3,194.23 h10.3 M424.2,194.23 h-10.3 M59.3,181.47 h6.8 M424.2,181.47 h-6.8 M59.3,168.72 h6.8 M424.2,168.72 h-6.8 M59.3,155.96 h6.8 M424.2,155.96 h-6.8 M59.3,143.21 h6.8 M424.2,143.21 h-6.8 M59.3,130.45 h10.3 M424.2,130.45 h-10.3 M59.3,117.69 h6.8 M424.2,117.69 h-6.8 M59.3,104.94 h6.8 M424.2,104.94 h-6.8 M59.3,92.19 h6.8 M424.2,92.19 h-6.8 M59.3,79.43 h6.8 M424.2,79.43 h-6.8 M59.3,66.68 h10.3 M424.2,66.68 h-10.3 M59.3,53.92 h6.8 M424.2,53.92 h-6.8 M59.3,41.16 h6.8 M424.2,41.16 h-6.8 M59.3,28.41 h6.8 M424.2,28.41 h-6.8 M59.3,15.66 h6.8 M424.2,15.66 h-6.8 M59.3,2.90 h10.3 M424.2,2.90 h-10.3" stroke="#000" stroke-width="1.8" fill="none"/>
<g font-family="Liberation Serif, serif" fill="#000" opacity="0.999">
<text transform="translate(56.4,392.45) scale(0.73,1)" font-size="18.5" text-anchor="end" font-weight="normal" >0</text>
<text transform="translate(56.4,328.67499999999995) scale(0.73,1)" font-size="18.5" text-anchor="end" font-weight="normal" >0.05</text>
<text transform="translate(56.4,264.9) scale(0.73,1)" font-size="18.5" text-anchor="end" font-weight="normal" >0.1</text>
<text transform="translate(56.4,201.12500000000003) scale(0.73,1)" font-size="18.5" text-anchor="end" font-weight="normal" >0.15</text>
<text transform="translate(56.4,137.35) scale(0.73,1)" font-size="18.5" text-anchor="end" font-weight="normal" >0.2</text>
<text transform="translate(56.4,73.57500000000002) scale(0.73,1)" font-size="18.5" text-anchor="end" font-weight="normal" >0.25</text>
<text transform="translate(59.9,403.3) scale(0.8,1)" font-size="18" text-anchor="middle" font-weight="normal" >0</text>
<text transform="translate(132.88,403.3) scale(0.8,1)" font-size="18" text-anchor="middle" font-weight="normal" >50</text>
<text transform="translate(205.85999999999999,403.3) scale(0.8,1)" font-size="18" text-anchor="middle" font-weight="normal" >100</text>
<text transform="translate(278.84000000000003,403.3) scale(0.8,1)" font-size="18" text-anchor="middle" font-weight="normal" >150</text>
<text transform="translate(351.82000000000005,403.3) scale(0.8,1)" font-size="18" text-anchor="middle" font-weight="normal" >200</text>
<text transform="translate(424.8,403.3) scale(0.8,1)" font-size="18" text-anchor="middle" font-weight="normal" >250</text>
<text transform="translate(141.2,101.0) scale(0.785,1)" font-size="18" text-anchor="start" font-weight="normal" >Samana et al. PQRPA-S6</text>
<text transform="translate(141.2,121.2) scale(0.785,1)" font-size="18" text-anchor="start" font-weight="normal" >Volpe et al. RPA</text>
<text transform="translate(141.2,142.10000000000002) scale(0.785,1)" font-size="18" text-anchor="start" font-weight="normal" >Paar et al. RQRPA</text>
<text transform="translate(141.2,162.3) scale(0.785,1)" font-size="18" text-anchor="start" font-weight="normal" >LFGM with RPA</text>
<text transform="translate(141.2,179.8) scale(0.785,1)" font-size="18" text-anchor="start" font-weight="normal" >Smith-Moniz FGM</text>
<text transform="translate(141.2,196.4) scale(0.785,1)" font-size="18" text-anchor="start" font-weight="normal" >Kolbe et al. CRPA</text>
<text transform="translate(144.6,40.4) scale(0.71,1)" font-size="15" text-anchor="start" font-weight="normal" >12</text>
<text transform="translate(155.6,53.8) scale(0.78,1)" font-size="22.5" text-anchor="start" font-weight="normal" >C</text>
<text transform="translate(113.5,75.0) scale(0.764,1)" font-size="18.6" text-anchor="start" font-weight="normal" >M</text>
<text transform="translate(125.9,82.8) scale(0.68,1)" font-size="15.2" text-anchor="start" font-weight="normal" >A</text>
<text transform="translate(150.35,75.2) scale(0.707,1)" font-size="19.2" text-anchor="start" font-weight="normal" >1.05 GeV</text>
<path d="M139.7,68.8 H147.4 M139.7,72.1 H147.4" stroke="#000" stroke-width="1.1" fill="none"/>
<text transform="translate(368.6,58.3) scale(0.8,1)" font-size="34" text-anchor="start" font-weight="normal" >ν</text>
<text transform="translate(381.3,70.6) scale(0.8,1)" font-size="23.5" text-anchor="start" font-weight="normal" >e</text>
<text transform="translate(205.5,423.4) scale(0.77,1)" font-size="22.8" text-anchor="start" font-weight="normal" >E</text>
<text transform="translate(216.1,433.9) scale(0.86,1)" font-size="21" text-anchor="start" font-weight="normal" >ν</text>
<text transform="translate(228.1,423.4) scale(0.817,1)" font-size="22.8" text-anchor="start" font-weight="normal" >(MeV)</text>
<text transform="translate(26.0,279.3) rotate(-90) scale(1,0.675)" font-size="34" stroke="#000" stroke-width="0.8">σ</text>
<text transform="translate(25.6,253.0) rotate(-90) scale(1,0.67)" font-size="36" stroke="#000" stroke-width="0.25">(</text>
<text transform="translate(26.0,240.6) rotate(-90) scale(1,0.93)" font-size="24" stroke="#000" stroke-width="0.9">1</text>
<text transform="translate(26.0,227.3) rotate(-90) scale(1,0.74)" font-size="32.5" stroke="#000" stroke-width="0.9">0</text>
<text transform="translate(12.4,210.9) rotate(-90) scale(1,0.8)" font-size="23" stroke="#000" stroke-width="0.3">-</text>
<text transform="translate(12.2,204) rotate(-90) scale(1,0.92)" font-size="19" stroke="#000" stroke-width="0.25">3</text>
<text transform="translate(12.2,192.4) rotate(-90) scale(1,0.92)" font-size="19" stroke="#000" stroke-width="0.25">8</text>
<text transform="translate(25.7,173.2) rotate(-90) scale(1,0.88)" font-size="28.5" stroke="#000" stroke-width="0.3">cm</text>
<text transform="translate(13.6,136.5) rotate(-90) scale(1,0.82)" font-size="20" stroke="#000" stroke-width="0.25">2</text>
<text transform="translate(25.6,118.6) rotate(-90) scale(1,0.67)" font-size="36" stroke="#000" stroke-width="0.25">)</text>
</g>
<g fill="none">
<path d="M87.8,95.9 H134.7" stroke="#ff0000" stroke-width="1.8" stroke-dasharray="2 3.3 6.2 3.1 6.2 5.1" stroke-dashoffset="-8.7"/>
<path d="M87.8,95.9 H94.2" stroke="#ff0000" stroke-width="1.8"/>
<ellipse cx="87.8" cy="95.9" rx="2.9" ry="3.3" fill="#ff0000"/><ellipse cx="134.7" cy="95.9" rx="2.9" ry="3.3" fill="#ff0000"/>
<path d="M87.8,116.5 H134.7" stroke="#0000ff" stroke-width="1.8"/>
<path d="M85.70,112.00 L91.50,116.50 L85.70,121.00 Z" fill="#0000ff"/>
<path d="M132.50,112.00 L138.30,116.50 L132.50,121.00 Z" fill="#0000ff"/>
<path d="M87.8,137.4 H134.7" stroke="#000" stroke-width="4.8" stroke-dasharray="3.6 10.5"/>
<path d="M87.8,156.2 H134.4" stroke="#000" stroke-width="1.9"/>
<path d="M87.8,173.7 H131.6" stroke="#0000ff" stroke-width="1.9" stroke-dasharray="7.3 4.6"/>
<path d="M108.50,187.40 L113.50,194.00 M108.50,194.00 L113.50,187.40" stroke="#ff00ff" stroke-width="2" fill="none"/>
</g>
</svg>
</body></html>
